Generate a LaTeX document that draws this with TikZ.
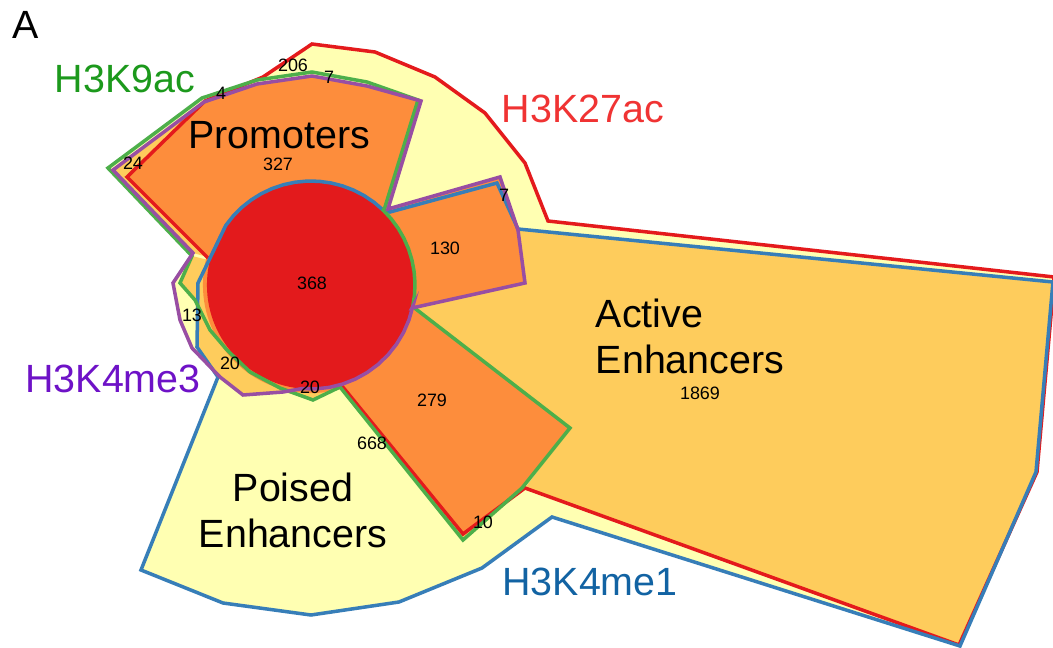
\documentclass[tikz,border=0pt]{standalone}
\usepackage{fontspec}
\setmainfont{Liberation Sans}
\usetikzlibrary{calc}
% outline colours of the four marks
\definecolor{markred}{rgb}{0.894118, 0.101961, 0.109804}
\definecolor{markblue}{rgb}{0.215686, 0.494118, 0.721569}
\definecolor{markgreen}{rgb}{0.301961, 0.686275, 0.290196}
\definecolor{markpurple}{rgb}{0.596078, 0.305882, 0.639216}
% fills by number of overlapping marks
\definecolor{one}{rgb}{1, 1, 0.698039}
\definecolor{two}{rgb}{0.996078, 0.8, 0.360784}
\definecolor{three}{rgb}{0.992157, 0.552941, 0.235294}
\definecolor{four}{rgb}{0.890196, 0.101961, 0.109804}
% label colours
\definecolor{txtgreen}{rgb}{0.11, 0.60, 0.11}
\definecolor{txtred}{rgb}{0.94, 0.20, 0.20}
\definecolor{txtpurple}{rgb}{0.43, 0.07, 0.78}
\definecolor{txtblue}{rgb}{0.07, 0.39, 0.64}

\begin{document}
\begin{tikzpicture}[x=0.01cm, y=-0.01cm, line width=1pt,
        every node/.style={inner sep=0pt},
        setname/.style={font=\fontsize{11.2}{13.1}\selectfont},
        tally/.style={font=\fontsize{5.1}{6}\selectfont}]
    \fill[white] (0,0) rectangle (1053,648);
    \useasboundingbox (0,0) rectangle (1053,648);
    \coordinate (core) at (311,285);

    % set borders
    \def\redmark{(208,258) -- (127,177) -- (205,101) -- (263,77) -- (312,44) -- (375,52) -- (435,77) -- (485,113)
        -- (525,163) -- (548,221) -- (1054,277) -- (1054,282) -- (1037,472) -- (959,645) -- (525,488) -- (463,534) -- (342,386)}
    \def\bluemark{(218,377) -- (141,570) -- (223,603) -- (311,615) -- (399,602) -- (482,568) -- (552,517)
        -- (960,646) -- (1036,472) -- (1053,282) -- (518,229) -- (497,183) -- (390,212)
        -- plot[domain=46:145, samples=16] ({311+104*cos(\x)}, {285-104*sin(\x)})
        -- (198,283) -- (197,347) -- cycle}
    \def\greenmark{(108,168) -- (202,98) -- (257,80) -- (312,72) -- (367,82) -- (418,100) -- (385,207)
        -- plot[domain=46:-12, samples=10] ({311+104*cos(\x)}, {285-104*sin(\x)})
        -- (570,428) -- (522,488) -- (463,540) -- (340,387) -- (313,400) -- (280,388) -- (250,372)
        -- (227,350) -- (210,330) -- (195,300) -- (180,283) -- (192,256) -- cycle}
    \def\purplemark{(113,170) -- (204,102) -- (257,84) -- (312,76) -- (367,86) -- (421,101) -- (388,209)
        -- (500,177) -- (518,230) -- (525,283) -- (412,308)
        -- plot[domain=-12:-95, samples=12] ({311+104*cos(\x)}, {285-104*sin(\x)})
        -- (283,392) -- (243,395) -- (220,377) -- (192,348) -- (180,320) -- (173,283) -- (193,253) -- cycle}

    % single marks
    \fill[one] \redmark -- (core) -- cycle;
    \fill[one] \bluemark;
    \fill[one] \greenmark;
    \fill[one] \purplemark;

    % two marks
    \fill[two] (518,229) -- (1053,282) -- (1036,472) -- (958,643) -- (525,488) -- (570,428) -- (412,308)
        -- (525,283) -- cycle;
    \fill[two] (113,170) -- (204,102) -- (257,84) -- (312,76) -- (367,86) -- (421,101) -- (388,209)
        -- (core) -- (193,253) -- cycle;
    \fill[two] (412,308) -- (570,428) -- (522,488) -- (463,540) -- (340,387) -- (core) -- cycle;
    \fill[two] (192,256) -- (180,283) -- (195,300) -- (199,315) -- (197,347) -- (218,377) -- (243,395)
        -- (283,392) -- (298,395) -- (313,400) -- (342,387) -- (core) -- cycle;

    % three marks
    \fill[three] (127,177) -- (205,101) -- (257,84) -- (312,76) -- (367,86) -- (421,101) -- (388,209)
        -- (core) -- (208,258) -- cycle;
    \fill[three] (388,209) -- (500,177) -- (518,230) -- (525,283) -- (412,308) -- (core) -- cycle;
    \fill[three] (412,308) -- (570,428) -- (523,487) -- (463,534) -- (342,386) -- (core) -- cycle;
    \fill[three] (core) circle[radius=1.08cm];

    % all four
    \fill[four] (core) circle[radius=1.04cm];

    \draw[markred] \redmark;
    \draw[markblue] \bluemark;
    \draw[markgreen] \greenmark;
    \draw[markpurple] \purplemark;

    \node[setname] (panel) at (26,25) {A};
    \node[setname, text=txtgreen] (h3k9ac) at (125,79) {H3K9ac};
    \node[setname, text=txtred] (h3k27ac) at (583,109) {H3K27ac};
    \node[setname, text=txtpurple] (h3k4me3) at (113,379) {H3K4me3};
    \node[setname, text=txtblue] (h3k4me1) at (590,582) {H3K4me1};

    \node[setname, anchor=base] (promoters) at (279,148) {Promoters};
    \node[setname, align=left] (active) at (690,336) {Active\\Enhancers};
    \node[setname, align=center] (poised) at (293,510) {Poised\\Enhancers};

    \foreach \px/\py/\val [count=\k] in {278/164/327, 293/65/206, 329/77/7, 221/93/4, 133/163/24,
            312/283/368, 445/248/130, 504/195/7, 700/393/1869, 432/400/279, 372/443/668,
            483/522/10, 192/315/13, 230/363/20, 310/387/20}{
        \node[tally] (count\k) at (\px,\py) {\val};
    }
\end{tikzpicture}
\end{document}
